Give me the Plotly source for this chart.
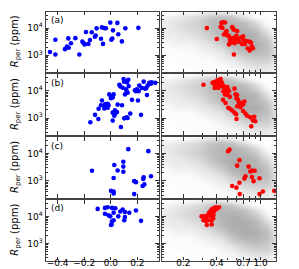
import plotly.graph_objects as go

# ---------------- data ----------------
# panel (a)
a_left_x = [-0.458, -0.417, -0.417, -0.345, -0.330, -0.317, -0.320, -0.300, -0.267, -0.237,
            -0.214, -0.204, -0.197, -0.187, -0.169, -0.157, -0.144, -0.120, -0.114, -0.107,
            -0.074, -0.067, -0.059, -0.049, -0.037, -0.004, 0.004, 0.011, 0.016, 0.049,
            0.056, 0.083, 0.109, 0.207]
a_left_y = [1310, 1060, 3700, 1680, 2090, 1880, 4170, 2750, 4260, 1060,
            3160, 2760, 2510, 7200, 2620, 3630, 7000, 4780, 5320, 9760,
            4050, 10600, 2620, 10000, 9800, 15900, 3700, 4150, 8250, 15500,
            5960, 3240, 9760, 10200]
a_right_x = [0.326, 0.401, 0.442, 0.457, 0.477, 0.435, 0.451, 0.482, 0.492, 0.467,
             0.499, 0.517, 0.528, 0.542, 0.553, 0.565, 0.573, 0.553, 0.573, 0.585,
             0.605, 0.614, 0.622, 0.581, 0.517, 0.635, 0.667, 0.695, 0.695, 0.705,
             0.681, 0.720, 0.743, 0.765, 0.791, 0.819, 0.836, 0.853, 0.798, 0.573]
a_right_y = [10000, 3950, 15500, 16400, 16000, 10900, 10200, 6800, 7800, 5770,
             5500, 5040, 3630, 2990, 10860, 9440, 8700, 4170, 4400, 3630,
             5180, 7810, 3950, 2750, 2510, 3160, 4510, 5030, 3800, 2750,
             2620, 2620, 3340, 1820, 3160, 2910, 2090, 1820, 1510, 1060]

# panel (b)
b_left_x = [-0.154, -0.119, -0.094, -0.092, -0.074, -0.067, -0.049, -0.044, -0.042, -0.024,
            -0.017, -0.024, -0.012, 0.001, 0.001, 0.009, 0.014, 0.021, 0.014, 0.014,
            0.026, 0.034, 0.031, 0.046, 0.051, 0.064, 0.071, 0.076, 0.084, 0.089,
            0.096, 0.099, 0.106, 0.114, 0.121, 0.121, 0.131, 0.126, 0.134, 0.101,
            0.119, 0.126, 0.146, 0.159, 0.181, 0.189, 0.196, 0.204, 0.209, 0.214,
            0.227, 0.234, 0.247, 0.259, 0.267, 0.272, 0.277, 0.289, 0.302, 0.307, 0.334]
b_left_y = [703, 1310, 922, 2190, 2950, 4440, 2260, 2950, 3300, 3380,
            2950, 2380, 7420, 5370, 6140, 6480, 5660, 7420, 1580, 806,
            1210, 1460, 1910, 1670, 3120, 16700, 14600, 468, 2950, 13100,
            27200, 21900, 7420, 11400, 20800, 9220, 25600, 8500, 15000, 973,
            1060, 1000, 1460, 4680, 10500, 9760, 11400, 4440, 9760, 15800,
            1310, 12800, 21900, 12100, 12800, 7030, 15800, 19700, 18200, 20800, 19700]
b_right_x = [0.304, 0.367, 0.379, 0.393, 0.406, 0.420, 0.435, 0.387, 0.401, 0.415,
             0.429, 0.444, 0.384, 0.415, 0.444, 0.460, 0.466, 0.476, 0.482, 0.492,
             0.499, 0.506, 0.516, 0.460, 0.476, 0.499, 0.527, 0.581, 0.593, 0.614,
             0.605, 0.626, 0.635, 0.648, 0.614, 0.657, 0.681, 0.695, 0.714, 0.457,
             0.482, 0.509, 0.527, 0.553, 0.581, 0.601, 0.695, 0.730, 0.755, 0.808,
             0.877, 0.853, 0.895, 0.824, 0.605]
b_right_y = [16700, 19700, 20800, 21900, 23800, 25800, 27200, 15800, 18200, 16700,
             19700, 20800, 12800, 12800, 15000, 15800, 13800, 12100, 10600, 9230,
             13800, 11500, 9730, 9730, 7410, 7030, 6140, 12100, 7410, 7030,
             5360, 4680, 3870, 3300, 2720, 2510, 3570, 3120, 4090, 4680,
             3570, 2380, 2190, 1910, 1580, 1380, 1820, 1460, 1210, 1060,
             1110, 805, 762, 494, 923]

# panel (c)
c_left_x = [-0.142, 0.001, 0.021, 0.021, 0.021, 0.026, 0.051, 0.094, 0.094, 0.094,
            0.131, 0.176, 0.189, 0.176, 0.239, 0.244, 0.247, 0.252, 0.282, 0.302]
c_left_y = [2340, 428, 405, 344, 1280, 3830, 2400, 5040, 3340, 2150,
            14700, 973, 896, 325, 645, 1180, 1350, 740, 12400, 1470]
c_right_x = [0.509, 0.524, 0.614, 0.644, 0.780, 0.808, 0.836, 0.883, 0.730, 0.714,
             0.644, 0.836, 0.865, 0.979, 0.553, 0.605, 1.05, 1.33, 0.648, 0.979]
c_right_y = [12400, 14300, 3630, 5780, 3340, 2210, 2400, 2340, 1470, 1210,
             849, 1390, 973, 1250, 645, 562, 405, 428, 325, 325]

# panel (d)
d_left_x = [-0.099, -0.044, -0.024, 0.009, 0.021, 0.034, 0.071, 0.089, 0.106, 0.139,
            -0.044, -0.017, -0.004, 0.021, 0.009, 0.021, 0.056, 0.001, 0.006, 0.106,
            0.101, 0.189, 0.227]
d_left_y = [19000, 20700, 21800, 20700, 20100, 20100, 15300, 18000, 14500, 13700,
            12600, 11000, 10100, 13700, 6710, 7300, 10100, 4840, 5100, 9600,
            7300, 16600, 6900]
d_right_x = [0.292, 0.304, 0.319, 0.335, 0.359, 0.326, 0.361, 0.319, 0.330, 0.342,
             0.354, 0.366, 0.379, 0.392, 0.406, 0.420, 0.354, 0.366, 0.379, 0.392,
             0.354, 0.374, 0.342, 0.308, 0.372]
d_right_y = [10100, 7300, 6900, 7300, 7300, 4840, 5100, 9600, 11000, 11000,
             12600, 13700, 15300, 18000, 20100, 21800, 16600, 19000, 20100, 21800,
             10400, 11000, 13700, 10100, 8380]

# background population, read as a density grid (cells in log10 units)
cloud_x_edges_log = [-0.9, -0.8, -0.7, -0.6, -0.5, -0.4, -0.3, -0.2, -0.1, 0.0, 0.1, 0.2]
cloud_y_edges_log = [2.3, 2.5, 2.7, 2.9, 3.1, 3.3, 3.5, 3.7, 3.9, 4.1, 4.3, 4.5, 4.7]
cloud_density = [
    [0, 0, 0, 1, 1, 1, 1, 2, 3, 3, 2],   # 2.4
    [0, 0, 1, 1, 1, 1, 2, 3, 4, 4, 2],   # 2.6
    [0, 1, 1, 1, 1, 2, 3, 5, 6, 6, 3],   # 2.8
    [1, 1, 1, 1, 2, 3, 5, 7, 8, 7, 4],   # 3.0
    [1, 1, 1, 2, 3, 4, 7, 9, 9, 8, 4],   # 3.2
    [1, 2, 2, 3, 4, 6, 9, 10, 10, 8, 3], # 3.4
    [2, 3, 3, 4, 6, 8, 10, 10, 9, 7, 2], # 3.6
    [3, 3, 4, 5, 7, 9, 10, 10, 9, 5, 1], # 3.8
    [3, 4, 5, 6, 8, 9, 10, 9, 7, 3, 0],  # 4.0
    [3, 4, 5, 6, 8, 9, 9, 8, 5, 1, 0],   # 4.2
    [2, 3, 4, 5, 7, 8, 7, 4, 1, 0, 0],   # 4.4
    [0, 1, 1, 2, 3, 3, 2, 1, 0, 0, 0],   # 4.6
]

panel_labels = ["(a)", "(b)", "(c)", "(d)"]
left_ticks = [-0.4, -0.2, 0.0, 0.2]
left_ticktext = ["\u22120.4", "\u22120.2", "0.0", "0.2"]
right_ticks = [0.2, 0.4, 0.7, 1.0]
right_ticktext = ["0.2", "0.4", "0.7", "1.0"]
right_minor = [0.3, 0.5, 0.6, 0.8, 0.9]
y_ticks = [1000, 10000]
y_ticktext = ["10<sup>3</sup>", "10<sup>4</sup>"]
y_minor = [300, 400, 500, 600, 700, 800, 900, 2000, 3000, 4000, 5000, 6000, 7000, 8000, 9000, 20000, 30000, 40000]

# ---------------- figure ----------------
W, H = 299, 269
FONT = "DejaVu Sans"
fig = go.Figure()

left_dom = [37.7 / W, 150.7 / W]
right_dom = [154.0 / W, 268.0 / W]
row_tops = [3.5, 66.3, 129.1, 191.9]
row_h = 60.6

panels = [
    (a_left_x, a_left_y, a_right_x, a_right_y),
    (b_left_x, b_left_y, b_right_x, b_right_y),
    (c_left_x, c_left_y, c_right_x, c_right_y),
    (d_left_x, d_left_y, d_right_x, d_right_y),
]

x_edges = [10 ** v for v in cloud_x_edges_log]
y_edges = [10 ** v for v in cloud_y_edges_log]

common = dict(showline=True, linecolor="#444", linewidth=1.2, mirror="allticks",
              ticks="inside", ticklen=3.5, tickwidth=0.8, tickcolor="#333",
              showgrid=False, zeroline=False,
              tickfont=dict(family=FONT, size=9, color="black"))

annotations = []
for i, (lx, ly, rx, ry) in enumerate(panels):
    li, ri = 2 * i + 1, 2 * i + 2
    top = row_tops[i]
    ydom = [1 - (top + row_h) / H, 1 - top / H]
    last = i == 3

    fig.add_trace(go.Heatmap(x=x_edges, y=y_edges, z=cloud_density,
                             xaxis=f"x{ri}", yaxis=f"y{ri}",
                             colorscale=[[0, "#ffffff"], [0.1, "#fbfbfb"], [0.3, "#ebebeb"],
                                         [0.6, "#d0d0d0"], [1, "#adadad"]],
                             zmin=0, zmax=10, zsmooth="best", showscale=False, hoverinfo="skip"))
    fig.add_trace(go.Scatter(x=lx, y=ly, mode="markers", xaxis=f"x{li}", yaxis=f"y{li}",
                             marker=dict(color="#0000ff", size=4.6), showlegend=False))
    fig.add_trace(go.Scatter(x=rx, y=ry, mode="markers", xaxis=f"x{ri}", yaxis=f"y{ri}",
                             marker=dict(color="#ff0000", size=4.6), showlegend=False))

    fig.layout[f"xaxis{li}"] = dict(common, domain=left_dom, anchor=f"y{li}", range=[-0.49, 0.36],
                                    tickmode="array", tickvals=left_ticks, ticktext=left_ticktext,
                                    showticklabels=last, ticklabelstandoff=-6)
    fig.layout[f"xaxis{ri}"] = dict(common, domain=right_dom, anchor=f"y{ri}", type="log",
                                    range=[-0.893, 0.14], tickmode="array", tickvals=right_ticks,
                                    ticktext=right_ticktext, showticklabels=last,
                                    ticklabelstandoff=-6,
                                    minor=dict(tickvals=right_minor, ticks="inside", ticklen=2,
                                               tickwidth=0.6, tickcolor="#333"))
    for ax, show in ((li, True), (ri, False)):
        fig.layout[f"yaxis{ax}"] = dict(common, domain=ydom, anchor=f"x{ax}", type="log",
                                        range=[2.38, 4.61], tickmode="array", tickvals=y_ticks,
                                        ticktext=y_ticktext, showticklabels=show,
                                        minor=dict(tickvals=y_minor, ticks="inside", ticklen=2,
                                                   tickwidth=0.6, tickcolor="#333"))

    annotations.append(dict(text=panel_labels[i], xref="paper", yref="paper",
                            x=41 / W, y=1 - (top + 8.5) / H, xanchor="left", yanchor="middle",
                            showarrow=False, font=dict(family=FONT, size=9, color="black")))
    annotations.append(dict(text="<i>R</i><sub>per</sub> (ppm)", xref="paper", yref="paper",
                            x=7.5 / W, y=1 - (top + row_h / 2) / H, xanchor="center", yanchor="middle",
                            textangle=-90, showarrow=False,
                            font=dict(family=FONT, size=10, color="black")))

fig.update_layout(width=W, height=H, margin=dict(l=0, r=0, t=0, b=0),
                  paper_bgcolor="white", plot_bgcolor="white", showlegend=False,
                  annotations=annotations, font=dict(family=FONT, size=9, color="black"))

fig.write_html("out.html")
